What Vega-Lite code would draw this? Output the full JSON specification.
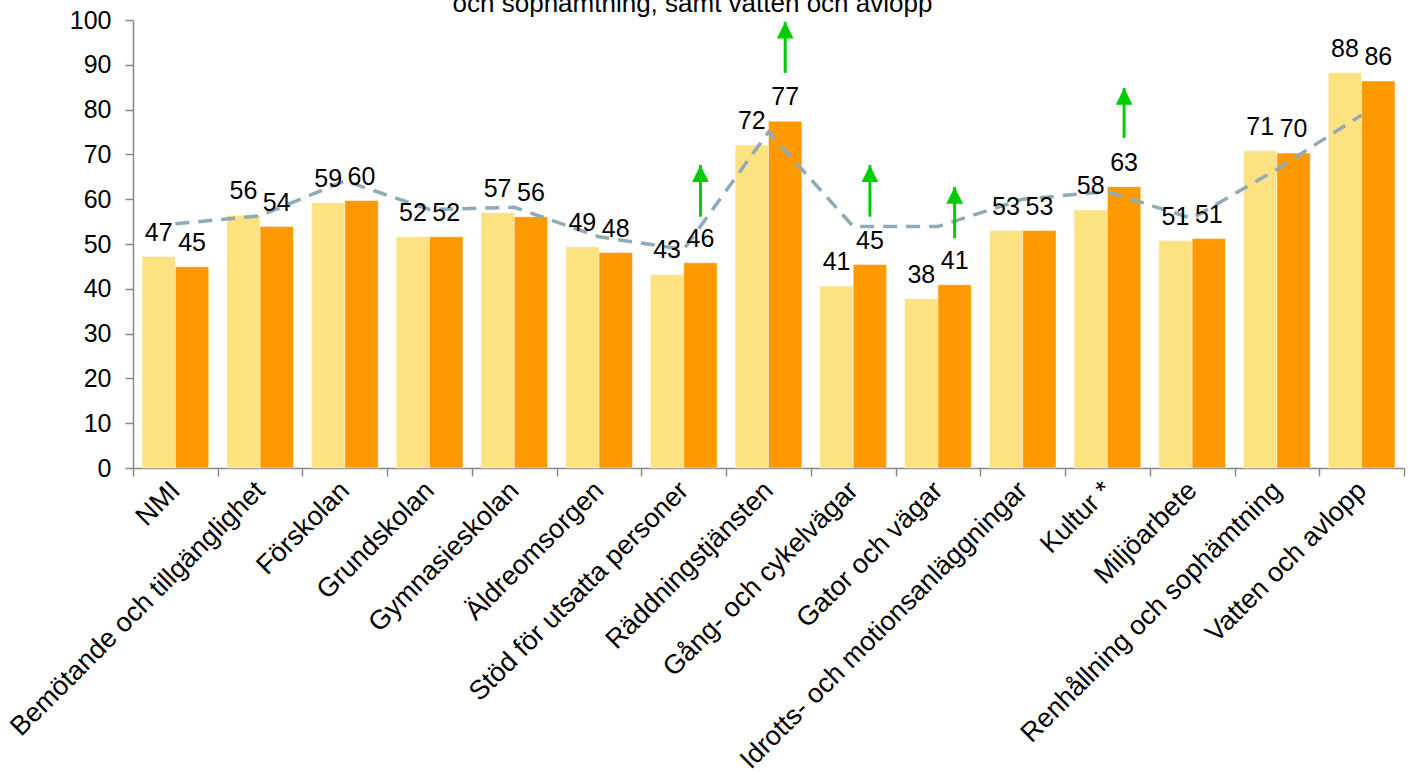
{
  "$schema": "https://vega.github.io/schema/vega-lite/v6.json",
  "autosize": {"type": "none"},
  "width": 1271,
  "height": 448,
  "padding": {"left": 133, "top": 20, "right": 8, "bottom": 307},
  "background": "white",
  "config": {
    "font": "Liberation Sans",
    "view": {"stroke": null},
    "axis": {"grid": false, "domainColor": "#888888", "tickColor": "#888888", "domainWidth": 1.5, "tickWidth": 1.5, "tickSize": 8, "labelColor": "#000000", "labelFont": "Liberation Sans", "title": null}
  },
  "title": {
    "text": "och sophämtning,  samt vatten och avlopp",
    "fontSize": 26,
    "fontWeight": "normal",
    "font": "Liberation Sans",
    "color": "#000000",
    "anchor": "middle",
    "frame": "group",
    "baseline": "alphabetic",
    "dx": -76,
    "dy": 30,
    "offset": 0
  },
  "datasets": {
    "bars": [
      {"kategori": "NMI", "serie": "A", "varde": 47.2},
      {"kategori": "NMI", "serie": "B", "varde": 44.9},
      {"kategori": "Bemötande och tillgänglighet", "serie": "A", "varde": 56.4},
      {"kategori": "Bemötande och tillgänglighet", "serie": "B", "varde": 53.9},
      {"kategori": "Förskolan", "serie": "A", "varde": 59.2},
      {"kategori": "Förskolan", "serie": "B", "varde": 59.7},
      {"kategori": "Grundskolan", "serie": "A", "varde": 51.6},
      {"kategori": "Grundskolan", "serie": "B", "varde": 51.6},
      {"kategori": "Gymnasieskolan", "serie": "A", "varde": 57.0},
      {"kategori": "Gymnasieskolan", "serie": "B", "varde": 56.1},
      {"kategori": "Äldreomsorgen", "serie": "A", "varde": 49.4},
      {"kategori": "Äldreomsorgen", "serie": "B", "varde": 48.1},
      {"kategori": "Stöd för utsatta personer", "serie": "A", "varde": 43.2},
      {"kategori": "Stöd för utsatta personer", "serie": "B", "varde": 45.8},
      {"kategori": "Räddningstjänsten", "serie": "A", "varde": 72.1},
      {"kategori": "Räddningstjänsten", "serie": "B", "varde": 77.4},
      {"kategori": "Gång- och cykelvägar", "serie": "A", "varde": 40.6},
      {"kategori": "Gång- och cykelvägar", "serie": "B", "varde": 45.4},
      {"kategori": "Gator och vägar", "serie": "A", "varde": 37.8},
      {"kategori": "Gator och vägar", "serie": "B", "varde": 40.9},
      {"kategori": "Idrotts- och motionsanläggningar", "serie": "A", "varde": 53.0},
      {"kategori": "Idrotts- och motionsanläggningar", "serie": "B", "varde": 53.0},
      {"kategori": "Kultur *", "serie": "A", "varde": 57.6},
      {"kategori": "Kultur *", "serie": "B", "varde": 62.8},
      {"kategori": "Miljöarbete", "serie": "A", "varde": 50.7},
      {"kategori": "Miljöarbete", "serie": "B", "varde": 51.2},
      {"kategori": "Renhållning och sophämtning", "serie": "A", "varde": 70.8},
      {"kategori": "Renhållning och sophämtning", "serie": "B", "varde": 70.3},
      {"kategori": "Vatten och avlopp", "serie": "A", "varde": 88.2},
      {"kategori": "Vatten och avlopp", "serie": "B", "varde": 86.4}
    ],
    "snitt": [
      {"kategori": "NMI", "snitt": 54.5},
      {"kategori": "Bemötande och tillgänglighet", "snitt": 56.3},
      {"kategori": "Förskolan", "snitt": 64.1},
      {"kategori": "Grundskolan", "snitt": 57.7},
      {"kategori": "Gymnasieskolan", "snitt": 58.2},
      {"kategori": "Äldreomsorgen", "snitt": 51.6},
      {"kategori": "Stöd för utsatta personer", "snitt": 48.8},
      {"kategori": "Räddningstjänsten", "snitt": 75.0},
      {"kategori": "Gång- och cykelvägar", "snitt": 53.9},
      {"kategori": "Gator och vägar", "snitt": 53.9},
      {"kategori": "Idrotts- och motionsanläggningar", "snitt": 60.0},
      {"kategori": "Kultur *", "snitt": 61.7},
      {"kategori": "Miljöarbete", "snitt": 55.7},
      {"kategori": "Renhållning och sophämtning", "snitt": 66.7},
      {"kategori": "Vatten och avlopp", "snitt": 78.8}
    ],
    "pilar": [
      {"kategori": "Stöd för utsatta personer", "serie": "B", "fran": 56.1, "till": 67.6},
      {"kategori": "Räddningstjänsten", "serie": "B", "fran": 88.2, "till": 99.6},
      {"kategori": "Gång- och cykelvägar", "serie": "B", "fran": 56.1, "till": 67.6},
      {"kategori": "Gator och vägar", "serie": "B", "fran": 51.3, "till": 62.7},
      {"kategori": "Kultur *", "serie": "B", "fran": 73.7, "till": 84.8}
    ]
  },
  "encoding": {
    "x": {
      "field": "kategori",
      "type": "nominal",
      "sort": null,
      "scale": {"paddingInner": 0, "paddingOuter": 0},
      "axis": {"tickBand": "extent", "labelAngle": -45, "labelAlign": "right", "labelBaseline": "middle", "labelFontSize": 27, "labelPadding": 10, "labelLimit": 0}
    }
  },
  "layer": [
    {
      "data": {"name": "bars"},
      "mark": {"type": "bar", "stroke": "#ffffff", "strokeOpacity": 0.45, "strokeWidth": 1},
      "encoding": {
        "xOffset": {"field": "serie", "type": "nominal", "scale": {"domain": ["A", "B"], "paddingInner": 0, "paddingOuter": 0.27}},
        "y": {
          "field": "varde",
          "type": "quantitative",
          "scale": {"domain": [0, 100], "nice": false},
          "axis": {"values": [0, 10, 20, 30, 40, 50, 60, 70, 80, 90, 100], "labelFontSize": 25, "labelPadding": 14}
        },
        "color": {"field": "serie", "type": "nominal", "scale": {"domain": ["A", "B"], "range": ["#FDE281", "#FF9900"]}, "legend": null}
      }
    },
    {
      "data": {"name": "snitt"},
      "mark": {"type": "line", "color": "#8FAAB8", "strokeWidth": 3.5, "strokeDash": [14, 9]},
      "encoding": {
        "y": {"field": "snitt", "type": "quantitative"}
      }
    },
    {
      "data": {"name": "bars"},
      "mark": {"type": "text", "baseline": "alphabetic", "dy": -16, "fontSize": 25, "color": "#000000"},
      "encoding": {
        "xOffset": {"field": "serie", "type": "nominal"},
        "y": {"field": "varde", "type": "quantitative"},
        "text": {"field": "varde", "type": "quantitative", "format": ".0f"}
      }
    },
    {
      "data": {"name": "pilar"},
      "mark": {"type": "rule", "color": "#00CC00", "strokeWidth": 3},
      "encoding": {
        "xOffset": {"field": "serie", "type": "nominal"},
        "y": {"field": "fran", "type": "quantitative"},
        "y2": {"field": "till"}
      }
    },
    {
      "data": {"name": "pilar"},
      "mark": {"type": "point", "shape": "M0,0L-1,2L1,2Z", "filled": true, "color": "#00CC00", "opacity": 1, "size": 280},
      "encoding": {
        "xOffset": {"field": "serie", "type": "nominal"},
        "y": {"field": "till", "type": "quantitative"}
      }
    }
  ]
}
